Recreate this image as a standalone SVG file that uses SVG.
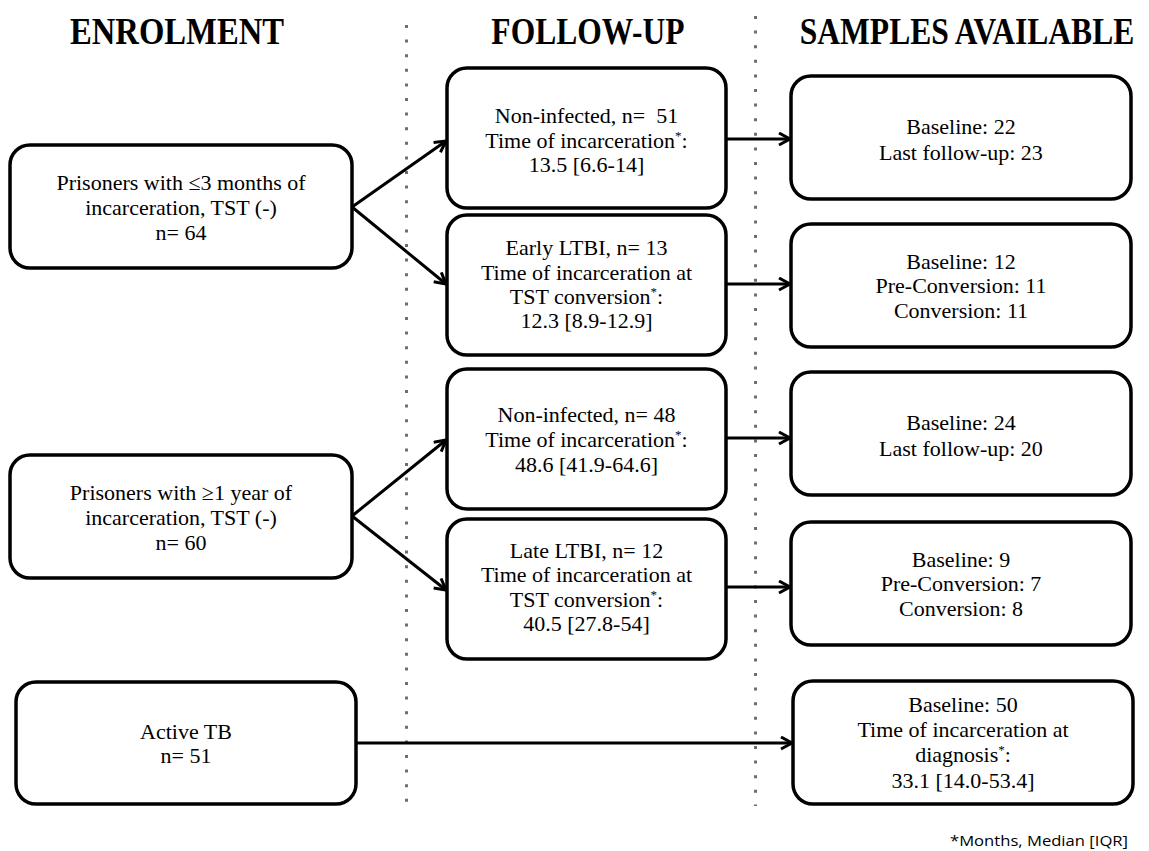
<svg xmlns="http://www.w3.org/2000/svg" width="1149" height="851" viewBox="0 0 1149 851">
<style>
.box{fill:#fff;stroke:#000;stroke-width:3.5}
.t{font-family:"Liberation Serif","Times New Roman",serif;font-size:22px;fill:#000;text-anchor:middle}
.h{font-family:"Liberation Serif","Times New Roman",serif;font-size:38px;font-weight:bold;fill:#000;text-anchor:middle}
.sup{font-size:13px}
.ln{stroke:#000;stroke-width:3;fill:none}
.dot{stroke:#6e6e6e;stroke-width:3;stroke-dasharray:3 11.6}
.fn{font-family:"Open Sans","Liberation Sans",sans-serif;font-size:15px;fill:#000}
</style>
<defs>
<marker id="ah" markerUnits="userSpaceOnUse" markerWidth="16" markerHeight="16" refX="12" refY="7" orient="auto">
<path d="M1,1 L12,7 L1,13" fill="none" stroke="#000" stroke-width="3" stroke-linejoin="miter"/>
</marker>
</defs>
<rect width="1149" height="851" fill="#fff"/>
<g id="headers">
<text class="h" transform="translate(177,44) scale(0.86,1)">ENROLMENT</text>
<text class="h" transform="translate(588,44) scale(0.83,1)">FOLLOW-UP</text>
<text class="h" transform="translate(967,44) scale(0.83,1)">SAMPLES AVAILABLE</text>
</g>
<g id="dividers">
<line class="dot" x1="406.5" y1="25" x2="406.5" y2="806"/>
<line class="dot" x1="755.5" y1="16" x2="755.5" y2="806"/>
</g>
<g id="connectors">
<line class="ln" x1="352" y1="207" x2="446" y2="141" marker-end="url(#ah)"/>
<line class="ln" x1="352" y1="207" x2="446" y2="284" marker-end="url(#ah)"/>
<line class="ln" x1="352" y1="516" x2="446" y2="440" marker-end="url(#ah)"/>
<line class="ln" x1="352" y1="516" x2="446" y2="590" marker-end="url(#ah)"/>
<line class="ln" x1="726" y1="139" x2="790" y2="139" marker-end="url(#ah)"/>
<line class="ln" x1="726" y1="284" x2="790" y2="284" marker-end="url(#ah)"/>
<line class="ln" x1="726" y1="438" x2="790" y2="438" marker-end="url(#ah)"/>
<line class="ln" x1="726" y1="587" x2="790" y2="587" marker-end="url(#ah)"/>
<line class="ln" x1="356" y1="743" x2="792" y2="743" marker-end="url(#ah)"/>
</g>
<g id="nodeA">
<rect class="box" x="10" y="145" width="342" height="123" rx="20"/>
<text class="t" x="181" y="190">Prisoners with ≤3 months of</text>
<text class="t" x="181" y="215">incarceration, TST (-)</text>
<text class="t" x="181" y="240">n= 64</text>
</g>
<g id="nodeB">
<rect class="box" x="10" y="455" width="342" height="123" rx="20"/>
<text class="t" x="181" y="500">Prisoners with ≥1 year of</text>
<text class="t" x="181" y="525">incarceration, TST (-)</text>
<text class="t" x="181" y="550">n= 60</text>
</g>
<g id="nodeC">
<rect class="box" x="16" y="682" width="340" height="122" rx="20"/>
<text class="t" x="186" y="739">Active TB</text>
<text class="t" x="186" y="763">n= 51</text>
</g>
<g id="nodeD">
<rect class="box" x="447" y="68" width="279" height="140" rx="20"/>
<text class="t" x="586.5" y="123" xml:space="preserve">Non-infected, n=  51</text>
<text class="t" x="586.5" y="148">Time of incarceration<tspan class="sup" dy="-8">*</tspan><tspan dy="8">:</tspan></text>
<text class="t" x="586.5" y="172">13.5 [6.6-14]</text>
</g>
<g id="nodeE">
<rect class="box" x="447" y="215" width="279" height="140" rx="20"/>
<text class="t" x="586.5" y="255">Early LTBI, n= 13</text>
<text class="t" x="586.5" y="280">Time of incarceration at</text>
<text class="t" x="586.5" y="304">TST conversion<tspan class="sup" dy="-8">*</tspan><tspan dy="8">:</tspan></text>
<text class="t" x="586.5" y="328">12.3 [8.9-12.9]</text>
</g>
<g id="nodeF">
<rect class="box" x="447" y="369" width="279" height="140" rx="20"/>
<text class="t" x="586.5" y="422">Non-infected, n= 48</text>
<text class="t" x="586.5" y="447">Time of incarceration<tspan class="sup" dy="-8">*</tspan><tspan dy="8">:</tspan></text>
<text class="t" x="586.5" y="472">48.6 [41.9-64.6]</text>
</g>
<g id="nodeG">
<rect class="box" x="447" y="519" width="279" height="140" rx="20"/>
<text class="t" x="586.5" y="558">Late LTBI, n= 12</text>
<text class="t" x="586.5" y="582">Time of incarceration at</text>
<text class="t" x="586.5" y="607">TST conversion<tspan class="sup" dy="-8">*</tspan><tspan dy="8">:</tspan></text>
<text class="t" x="586.5" y="631">40.5 [27.8-54]</text>
</g>
<g id="nodeH">
<rect class="box" x="791" y="76" width="340" height="123" rx="20"/>
<text class="t" x="961" y="134">Baseline: 22</text>
<text class="t" x="961" y="160">Last follow-up: 23</text>
</g>
<g id="nodeI">
<rect class="box" x="791" y="224" width="340" height="123" rx="20"/>
<text class="t" x="961" y="269">Baseline: 12</text>
<text class="t" x="961" y="293">Pre-Conversion: 11</text>
<text class="t" x="961" y="318">Conversion: 11</text>
</g>
<g id="nodeJ">
<rect class="box" x="791" y="372" width="340" height="123" rx="20"/>
<text class="t" x="961" y="430">Baseline: 24</text>
<text class="t" x="961" y="456">Last follow-up: 20</text>
</g>
<g id="nodeK">
<rect class="box" x="791" y="522" width="340" height="123" rx="20"/>
<text class="t" x="961" y="567">Baseline: 9</text>
<text class="t" x="961" y="591">Pre-Conversion: 7</text>
<text class="t" x="961" y="616">Conversion: 8</text>
</g>
<g id="nodeL">
<rect class="box" x="793" y="681" width="340" height="123" rx="20"/>
<text class="t" x="963" y="712">Baseline: 50</text>
<text class="t" x="963" y="737">Time of incarceration at</text>
<text class="t" x="963" y="762">diagnosis<tspan class="sup" dy="-8">*</tspan><tspan dy="8">:</tspan></text>
<text class="t" x="963" y="788">33.1 [14.0-53.4]</text>
</g>
<g id="footnote">
<text class="fn" x="950" y="846" textLength="178" lengthAdjust="spacingAndGlyphs">*Months, Median [IQR]</text>
</g>
</svg>
